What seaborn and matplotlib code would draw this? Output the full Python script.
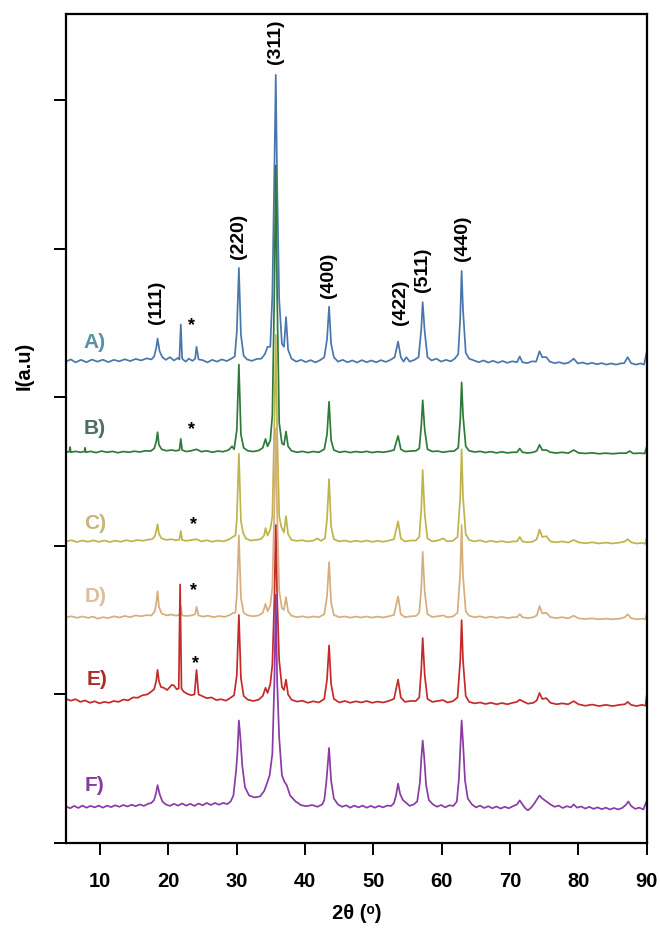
import matplotlib
matplotlib.use("Agg")
import pandas as pd
import matplotlib.pyplot as plt
import seaborn as sns

# Stacked XRD patterns: (2theta, intensity above each pattern's own baseline)
samples = ["A)", "B)", "C)", "D)", "E)", "F)"]
offsets = [3.24, 2.63, 2.03, 1.52, 0.95, 0.24]

pattern_a = [(5.0, 0.00), (5.7, 0.015), (6.4, -0.005), (7.2, 0.012), (8.0, -0.004), (8.8, 0.014), (9.6, 0.0),
             (10.4, 0.013), (11.2, -0.003), (12.0, 0.012), (12.8, 0.002), (13.6, 0.016), (14.4, 0.004), (15.2, 0.018),
             (16.0, 0.008), (16.8, 0.022), (17.5, 0.015), (17.9, 0.035), (18.2, 0.09), (18.4, 0.155), (18.7, 0.07),
             (19.1, 0.03), (19.6, 0.012), (20.2, 0.03), (20.8, 0.008), (21.4, 0.025), (21.6, 0.015), (21.8, 0.25),
             (22.0, 0.02), (22.5, 0.0), (23.0, 0.02), (23.5, 0.005), (23.9, 0.02), (24.1, 0.10), (24.4, 0.015),
             (25.0, 0.01), (25.7, -0.005), (26.4, 0.012), (27.1, 0.0), (27.8, 0.015), (28.5, 0.004), (29.2, 0.02),
             (29.7, 0.035), (30.0, 0.20), (30.3, 0.63), (30.6, 0.18), (31.0, 0.04), (31.5, 0.015), (32.2, 0.005),
             (32.9, 0.018), (33.6, 0.02), (34.1, 0.05), (34.5, 0.10), (34.9, 0.10), (35.2, 0.45), (35.5, 1.30),
             (35.7, 1.93), (35.9, 1.20), (36.2, 0.42), (36.6, 0.12), (36.9, 0.10), (37.2, 0.30), (37.5, 0.08),
             (38.0, 0.02), (38.7, 0.0), (39.4, 0.012), (40.1, -0.003), (40.8, 0.01), (41.5, -0.005), (42.2, 0.01),
             (42.8, 0.03), (43.2, 0.15), (43.5, 0.37), (43.8, 0.12), (44.2, 0.03), (44.8, 0.0), (45.5, 0.012),
             (46.2, -0.004), (46.9, 0.008), (47.6, -0.006), (48.3, 0.01), (49.0, -0.004), (49.7, 0.008),
             (50.4, -0.005), (51.1, 0.01), (51.8, -0.002), (52.5, 0.012), (53.1, 0.03), (53.6, 0.135), (54.0, 0.03),
             (54.4, 0.0), (54.8, 0.03), (55.3, 0.0), (56.0, 0.012), (56.6, 0.03), (57.0, 0.22), (57.2, 0.40),
             (57.5, 0.20), (57.9, 0.03), (58.5, 0.008), (59.2, 0.02), (59.9, 0.0), (60.6, 0.012), (61.3, 0.002),
             (61.9, 0.02), (62.4, 0.05), (62.7, 0.30), (62.9, 0.61), (63.1, 0.35), (63.5, 0.06), (64.0, 0.02),
             (64.7, 0.008), (65.4, -0.004), (66.1, 0.008), (66.8, -0.006), (67.5, 0.006), (68.2, -0.008),
             (68.9, 0.004), (69.6, -0.008), (70.3, 0.002), (71.0, -0.004), (71.4, 0.035), (71.8, -0.004),
             (72.5, -0.01), (73.2, 0.002), (73.8, 0.0), (74.3, 0.07), (74.7, 0.03), (75.3, 0.03), (75.8, 0.0),
             (76.5, -0.01), (77.2, -0.004), (77.9, -0.014), (78.6, -0.006), (79.3, 0.02), (79.9, -0.012),
             (80.6, -0.006), (81.3, -0.016), (82.0, -0.008), (82.7, -0.018), (83.4, -0.01), (84.1, -0.02),
             (84.8, -0.012), (85.5, -0.02), (86.2, -0.012), (86.7, -0.01), (87.2, 0.03), (87.7, -0.01),
             (88.4, -0.02), (89.1, -0.012), (89.6, -0.02), (90.0, 0.07)]

pattern_b = [(5.0, 0.0), (5.5, 0.005), (5.6, 0.035), (5.7, 0.0), (6.4, 0.006), (7.1, 0.0), (7.7, 0.005), (7.8, 0.03),
             (7.9, 0.0), (8.6, 0.006), (9.4, -0.002), (10.2, 0.008), (11.0, 0.0), (11.8, 0.006), (12.6, -0.003),
             (13.4, 0.005), (14.2, 0.0), (15.0, 0.007), (15.8, 0.002), (16.6, 0.01), (17.4, 0.008), (17.9, 0.025),
             (18.2, 0.07), (18.4, 0.135), (18.6, 0.05), (19.0, 0.02), (19.7, 0.01), (20.4, 0.015), (21.1, 0.01),
             (21.6, 0.015), (21.8, 0.09), (22.0, 0.015), (22.6, 0.005), (23.3, 0.01), (24.1, 0.02), (24.8, 0.004),
             (25.6, 0.01), (26.4, 0.0), (27.2, 0.008), (28.0, 0.004), (28.8, 0.015), (29.3, 0.04), (29.6, 0.02),
             (30.0, 0.15), (30.3, 0.59), (30.6, 0.12), (31.0, 0.03), (31.6, 0.01), (32.4, 0.005), (33.2, 0.012),
             (33.8, 0.03), (34.2, 0.09), (34.5, 0.04), (34.9, 0.08), (35.2, 0.25), (35.5, 1.10), (35.7, 1.93),
             (35.9, 1.05), (36.2, 0.20), (36.6, 0.06), (36.9, 0.05), (37.2, 0.14), (37.5, 0.04), (38.0, 0.01),
             (38.8, 0.0), (39.6, 0.006), (40.4, -0.002), (41.2, 0.005), (42.0, 0.0), (42.8, 0.02), (43.2, 0.12),
             (43.5, 0.34), (43.8, 0.08), (44.2, 0.015), (45.0, 0.0), (45.8, 0.006), (46.6, -0.002), (47.4, 0.005),
             (48.2, 0.0), (49.0, 0.006), (49.8, -0.002), (50.6, 0.004), (51.4, 0.0), (52.2, 0.006), (53.0, 0.015),
             (53.6, 0.11), (54.0, 0.02), (54.6, 0.005), (55.4, 0.008), (56.2, 0.01), (56.7, 0.025), (57.0, 0.18),
             (57.2, 0.35), (57.5, 0.15), (57.9, 0.02), (58.6, 0.005), (59.4, 0.008), (60.2, 0.0), (61.0, 0.006),
             (61.8, 0.008), (62.4, 0.03), (62.7, 0.22), (62.9, 0.47), (63.1, 0.25), (63.5, 0.04), (64.0, 0.01),
             (64.8, 0.002), (65.6, 0.006), (66.4, -0.002), (67.2, 0.004), (68.0, -0.004), (68.8, 0.003),
             (69.6, -0.004), (70.4, 0.0), (71.0, 0.0), (71.4, 0.025), (71.8, 0.0), (72.6, -0.005), (73.4, 0.0),
             (73.9, 0.01), (74.3, 0.05), (74.7, 0.015), (75.3, 0.015), (75.9, 0.0), (76.8, -0.005), (77.6, 0.0),
             (78.5, -0.006), (79.3, 0.015), (80.0, -0.004), (81.0, -0.008), (82.0, -0.004), (83.0, -0.01),
             (84.0, -0.006), (85.0, -0.01), (86.0, -0.006), (87.0, -0.006), (87.5, 0.008), (88.0, -0.008),
             (89.0, -0.006), (89.7, -0.008), (90.0, 0.04)]

pattern_c = [(5.0, 0.0), (5.8, 0.008), (6.6, -0.004), (7.4, 0.006), (8.2, -0.002), (9.0, 0.007), (9.8, -0.003),
             (10.6, 0.006), (11.4, -0.004), (12.2, 0.005), (13.0, -0.002), (13.8, 0.008), (14.6, 0.0), (15.4, 0.01),
             (16.2, 0.004), (17.0, 0.012), (17.6, 0.015), (18.0, 0.035), (18.2, 0.07), (18.4, 0.115), (18.6, 0.05),
             (19.0, 0.02), (19.7, 0.01), (20.4, 0.015), (21.1, 0.008), (21.6, 0.012), (21.8, 0.07), (22.0, 0.01),
             (22.6, 0.004), (23.4, 0.01), (24.1, 0.015), (24.8, 0.0), (25.6, 0.008), (26.4, -0.002), (27.2, 0.006),
             (28.0, 0.0), (28.8, 0.012), (29.4, 0.03), (29.8, 0.04), (30.0, 0.15), (30.3, 0.59), (30.6, 0.14),
             (30.9, 0.06), (31.3, 0.02), (32.0, 0.006), (32.8, 0.01), (33.5, 0.015), (34.0, 0.04), (34.2, 0.09),
             (34.5, 0.04), (34.9, 0.08), (35.2, 0.17), (35.5, 0.80), (35.7, 1.39), (35.9, 0.75), (36.2, 0.17),
             (36.5, 0.10), (36.9, 0.06), (37.2, 0.17), (37.5, 0.05), (38.0, 0.01), (38.8, 0.004), (39.6, 0.008),
             (40.4, 0.0), (41.2, 0.006), (41.8, 0.02), (42.3, 0.004), (42.9, 0.02), (43.2, 0.15), (43.5, 0.42),
             (43.8, 0.10), (44.2, 0.015), (45.0, 0.0), (45.8, 0.006), (46.6, -0.003), (47.4, 0.005), (48.2, -0.002),
             (49.0, 0.006), (49.8, -0.003), (50.6, 0.004), (51.4, -0.002), (52.2, 0.005), (53.0, 0.015),
             (53.6, 0.135), (54.0, 0.02), (54.6, 0.0), (55.4, 0.006), (56.2, 0.006), (56.7, 0.03), (57.0, 0.22),
             (57.2, 0.48), (57.5, 0.18), (57.9, 0.02), (58.6, 0.0), (59.4, 0.006), (60.2, 0.02), (60.8, 0.0),
             (61.6, 0.004), (62.3, 0.03), (62.7, 0.30), (62.9, 0.62), (63.1, 0.30), (63.5, 0.05), (64.0, 0.01),
             (64.8, 0.0), (65.6, 0.008), (66.4, -0.004), (67.2, 0.004), (68.0, -0.004), (68.8, 0.002),
             (69.6, -0.006), (70.4, 0.0), (71.0, 0.0), (71.4, 0.03), (71.8, 0.0), (72.6, -0.006), (73.4, 0.0),
             (73.9, 0.015), (74.3, 0.08), (74.7, 0.03), (75.3, 0.035), (75.9, 0.0), (76.8, -0.006), (77.6, 0.0),
             (78.5, -0.008), (79.3, 0.01), (80.0, -0.006), (81.0, -0.012), (82.0, -0.006), (83.0, -0.014),
             (84.0, -0.008), (85.0, -0.014), (86.0, -0.008), (86.8, 0.0), (87.2, 0.015), (87.7, -0.006),
             (88.5, -0.014), (89.3, -0.01), (89.8, -0.016), (90.0, 0.03)]

pattern_d = [(5.0, 0.0), (5.8, 0.006), (6.6, -0.004), (7.4, 0.005), (8.2, -0.004), (9.0, 0.004), (9.6, -0.01),
             (10.4, 0.0), (11.2, -0.006), (12.0, 0.006), (12.8, -0.002), (13.6, 0.008), (14.4, 0.0), (15.2, 0.012),
             (16.0, 0.006), (16.8, 0.014), (17.5, 0.012), (18.0, 0.04), (18.2, 0.09), (18.4, 0.175), (18.6, 0.07),
             (19.0, 0.025), (19.7, 0.012), (20.4, 0.018), (21.1, 0.01), (21.6, 0.015), (21.8, 0.075), (22.0, 0.012),
             (22.6, 0.008), (23.4, 0.012), (23.9, 0.02), (24.1, 0.07), (24.4, 0.012), (25.0, 0.004), (25.8, 0.01),
             (26.6, 0.0), (27.4, 0.008), (28.2, 0.002), (29.0, 0.015), (29.5, 0.03), (29.8, 0.03), (30.0, 0.15),
             (30.3, 0.55), (30.6, 0.13), (31.0, 0.03), (31.6, 0.012), (32.4, 0.006), (33.2, 0.012), (33.8, 0.03),
             (34.2, 0.09), (34.5, 0.04), (34.9, 0.08), (35.2, 0.20), (35.5, 0.75), (35.7, 1.27), (35.9, 0.70),
             (36.2, 0.18), (36.6, 0.06), (36.9, 0.05), (37.2, 0.135), (37.5, 0.04), (38.0, 0.01), (38.8, 0.0),
             (39.6, 0.006), (40.4, -0.002), (41.2, 0.005), (42.0, 0.0), (42.8, 0.02), (43.2, 0.14), (43.5, 0.37),
             (43.8, 0.10), (44.2, 0.015), (45.0, 0.0), (45.8, 0.005), (46.6, -0.003), (47.4, 0.004), (48.2, -0.002),
             (49.0, 0.005), (49.8, -0.003), (50.6, 0.004), (51.4, -0.002), (52.2, 0.006), (53.0, 0.015),
             (53.6, 0.14), (54.0, 0.02), (54.6, 0.0), (55.4, 0.006), (56.2, 0.008), (56.7, 0.03), (57.0, 0.20),
             (57.2, 0.44), (57.5, 0.17), (57.9, 0.02), (58.6, 0.002), (59.4, 0.006), (60.2, 0.012), (60.8, 0.0),
             (61.6, 0.004), (62.3, 0.03), (62.7, 0.30), (62.9, 0.62), (63.1, 0.28), (63.5, 0.04), (64.0, 0.01),
             (64.8, 0.0), (65.6, 0.006), (66.4, -0.004), (67.2, 0.004), (68.0, -0.004), (68.8, 0.002),
             (69.6, -0.006), (70.4, 0.0), (71.0, 0.0), (71.4, 0.02), (71.8, 0.0), (72.6, -0.006), (73.4, 0.0),
             (73.9, 0.012), (74.3, 0.075), (74.7, 0.025), (75.3, 0.03), (75.9, 0.0), (76.8, -0.006), (77.6, 0.0),
             (78.5, -0.008), (79.3, 0.01), (80.0, -0.008), (81.0, -0.012), (82.0, -0.008), (83.0, -0.014),
             (84.0, -0.01), (85.0, -0.014), (86.0, -0.01), (86.8, 0.0), (87.2, 0.02), (87.7, -0.006),
             (88.5, -0.014), (89.3, -0.01), (89.8, -0.014), (90.0, 0.03)]

pattern_e = [(5.0, 0.02), (5.7, 0.008), (6.4, 0.018), (7.1, 0.0), (7.8, 0.01), (8.5, -0.006), (9.2, 0.004),
             (9.9, -0.01), (10.6, 0.0), (11.3, -0.006), (12.0, 0.006), (12.7, 0.0), (13.4, 0.016), (14.1, 0.01),
             (14.8, 0.03), (15.5, 0.028), (16.2, 0.045), (16.9, 0.05), (17.5, 0.07), (17.9, 0.085), (18.2, 0.14),
             (18.4, 0.215), (18.6, 0.14), (18.9, 0.10), (19.3, 0.095), (19.8, 0.08), (20.2, 0.10), (20.5, 0.115),
             (20.8, 0.11), (21.2, 0.085), (21.5, 0.09), (21.7, 0.79), (21.9, 0.09), (22.2, 0.07), (22.7, 0.055),
             (23.3, 0.045), (23.8, 0.05), (24.1, 0.215), (24.4, 0.05), (24.9, 0.04), (25.6, 0.025), (26.3, 0.03),
             (27.0, 0.012), (27.7, 0.018), (28.4, 0.008), (29.0, 0.025), (29.6, 0.045), (30.0, 0.18),
             (30.3, 0.585), (30.6, 0.16), (31.0, 0.04), (31.6, 0.015), (32.4, 0.006), (33.2, 0.015), (33.8, 0.04),
             (34.2, 0.095), (34.5, 0.06), (34.9, 0.12), (35.2, 0.25), (35.5, 0.70), (35.7, 1.19), (35.9, 0.70),
             (36.2, 0.28), (36.6, 0.10), (36.9, 0.08), (37.2, 0.15), (37.5, 0.05), (38.0, 0.015), (38.8, 0.002),
             (39.6, 0.008), (40.4, -0.006), (41.2, 0.004), (42.0, -0.004), (42.8, 0.02), (43.2, 0.15),
             (43.5, 0.38), (43.8, 0.12), (44.2, 0.02), (45.0, -0.004), (45.8, 0.006), (46.6, -0.006),
             (47.4, 0.004), (48.2, -0.004), (49.0, 0.006), (49.8, -0.006), (50.6, 0.002), (51.4, -0.004),
             (52.2, 0.006), (53.0, 0.02), (53.6, 0.15), (54.0, 0.03), (54.6, 0.0), (55.4, 0.006), (56.2, 0.006),
             (56.7, 0.03), (57.0, 0.22), (57.2, 0.43), (57.5, 0.18), (57.9, 0.02), (58.6, 0.0), (59.4, 0.006),
             (60.2, 0.012), (60.8, -0.004), (61.6, 0.004), (62.3, 0.03), (62.7, 0.28), (62.9, 0.55), (63.1, 0.28),
             (63.5, 0.04), (64.0, 0.0), (64.8, -0.01), (65.6, -0.004), (66.4, -0.014), (67.2, -0.006),
             (68.0, -0.016), (68.8, -0.008), (69.6, -0.016), (70.4, -0.006), (71.0, 0.0), (71.4, 0.015),
             (71.8, 0.005), (72.6, -0.012), (73.4, -0.006), (73.9, 0.01), (74.3, 0.06), (74.7, 0.02), (75.3, 0.025),
             (75.9, -0.006), (76.8, -0.016), (77.6, -0.01), (78.5, -0.016), (79.3, 0.005), (80.0, -0.016),
             (81.0, -0.026), (82.0, -0.018), (83.0, -0.028), (84.0, -0.02), (85.0, -0.028), (86.0, -0.02),
             (86.8, -0.016), (87.2, 0.0), (87.7, -0.02), (88.5, -0.028), (89.3, -0.02), (89.8, -0.026),
             (90.0, 0.047)]

pattern_f = [(5.0, 0.007), (5.6, -0.006), (6.2, 0.01), (6.8, -0.004), (7.4, 0.012), (8.0, -0.002), (8.6, 0.01),
             (9.2, 0.0), (9.8, 0.012), (10.4, -0.002), (11.0, 0.012), (11.6, 0.002), (12.2, 0.014), (12.8, 0.004),
             (13.4, 0.016), (14.0, 0.006), (14.6, 0.018), (15.2, 0.008), (15.8, 0.02), (16.4, 0.01), (17.0, 0.024),
             (17.5, 0.03), (17.9, 0.05), (18.2, 0.10), (18.4, 0.15), (18.7, 0.09), (19.1, 0.04), (19.6, 0.02),
             (20.2, 0.01), (20.8, 0.024), (21.4, 0.012), (22.0, 0.026), (22.6, 0.012), (23.2, 0.024), (23.8, 0.01),
             (24.4, 0.026), (25.0, 0.014), (25.6, 0.03), (26.2, 0.016), (26.8, 0.03), (27.4, 0.018), (28.0, 0.03),
             (28.6, 0.022), (29.1, 0.04), (29.5, 0.08), (29.9, 0.25), (30.1, 0.38), (30.3, 0.585), (30.5, 0.48),
             (30.8, 0.28), (31.2, 0.135), (31.8, 0.08), (32.6, 0.067), (33.4, 0.074), (34.0, 0.11), (34.4, 0.16),
             (34.8, 0.215), (35.2, 0.36), (35.5, 0.85), (35.7, 1.43), (35.9, 0.85), (36.2, 0.47), (36.6, 0.215),
             (37.0, 0.17), (37.3, 0.15), (37.8, 0.08), (38.6, 0.04), (39.4, 0.015), (40.2, 0.008), (41.0, 0.016),
             (41.8, 0.004), (42.5, 0.02), (42.8, 0.05), (43.1, 0.17), (43.5, 0.40), (43.8, 0.18), (44.2, 0.06),
             (44.8, 0.02), (45.4, 0.004), (46.0, 0.014), (46.6, -0.002), (47.2, 0.012), (47.8, 0.0), (48.4, 0.012),
             (49.0, -0.002), (49.6, 0.01), (50.2, -0.002), (50.8, 0.01), (51.4, 0.0), (52.0, 0.012), (52.6, 0.01),
             (53.0, 0.03), (53.3, 0.08), (53.6, 0.16), (53.9, 0.09), (54.3, 0.05), (54.8, 0.03), (55.3, 0.01),
             (55.9, 0.02), (56.4, 0.04), (56.8, 0.17), (57.0, 0.33), (57.2, 0.45), (57.4, 0.35), (57.7, 0.15),
             (58.1, 0.05), (58.7, 0.02), (59.3, 0.004), (59.9, 0.016), (60.5, 0.0), (61.1, 0.014), (61.7, 0.01),
             (62.2, 0.04), (62.5, 0.19), (62.8, 0.48), (62.9, 0.585), (63.1, 0.44), (63.4, 0.18), (63.8, 0.06),
             (64.4, 0.02), (65.0, 0.0), (65.6, 0.012), (66.2, -0.004), (66.8, 0.008), (67.4, -0.006), (68.0, 0.006),
             (68.6, -0.008), (69.2, 0.004), (69.8, -0.006), (70.4, 0.008), (71.0, 0.02), (71.4, 0.047),
             (71.8, 0.02), (72.2, -0.005), (72.6, -0.02), (73.1, 0.0), (73.6, 0.03), (74.0, 0.06), (74.3, 0.08),
             (74.7, 0.06), (75.3, 0.04), (75.9, 0.02), (76.5, 0.004), (77.1, 0.012), (77.7, -0.004), (78.3, 0.008),
             (78.9, 0.0), (79.3, 0.02), (79.8, -0.002), (80.4, 0.006), (81.0, -0.008), (81.6, 0.004),
             (82.2, -0.01), (82.8, 0.0), (83.4, -0.012), (84.0, -0.002), (84.6, -0.014), (85.2, -0.004),
             (85.8, -0.014), (86.4, -0.004), (87.0, 0.02), (87.3, 0.04), (87.7, 0.01), (88.3, -0.01),
             (88.9, -0.002), (89.5, -0.014), (90.0, 0.047)]

patterns = [pattern_a, pattern_b, pattern_c, pattern_d, pattern_e, pattern_f]

line_colors = ["#4a76ad", "#2f7a3a", "#bfb44c", "#d6ae7e", "#c42a2a", "#8b3aa6"]
label_colors = ["#5b90a8", "#4d6f66", "#c9b47a", "#dcbf9c", "#ad2c2c", "#843c9e"]

# sample name positions, peak indices and impurity marks
label_x = [7.6, 7.6, 7.7, 7.7, 8.0, 7.7]
label_y = [3.37, 2.79, 2.15, 1.66, 1.10, 0.39]
hkl_labels = ["(111)", "(220)", "(311)", "(400)", "(422)", "(511)", "(440)"]
hkl_x = [18.3, 30.2, 35.7, 43.4, 54.0, 57.2, 63.1]
hkl_y = [3.64, 4.08, 5.39, 3.82, 3.64, 3.86, 4.07]
star_x = [23.4, 23.3, 23.6, 23.7, 23.9]
star_y = [3.48, 2.78, 2.14, 1.70, 1.21]

# long-form table, each pattern shifted by its offset
rows = []
for name, off, pts in zip(samples, offsets, patterns):
    for tt, inten in pts:
        rows.append({"two_theta": tt, "intensity": inten + off, "sample": name})
df = pd.DataFrame(rows)

sns.set_style("ticks")
plt.rcParams["font.family"] = ["Liberation Sans", "DejaVu Sans"]
plt.rcParams["text.color"] = "black"
plt.rcParams["axes.labelcolor"] = "black"
plt.rcParams["xtick.color"] = "black"
plt.rcParams["ytick.color"] = "black"

fig = plt.figure(figsize=(6.6, 9.3), dpi=100)
ax = fig.add_axes([0.1, 0.0935, 0.88, 0.8915])

sns.lineplot(data=df, x="two_theta", y="intensity", hue="sample", hue_order=samples,
             palette=dict(zip(samples, line_colors)), estimator=None, sort=False,
             legend=False, linewidth=1.25, ax=ax)

ax.set_xlim(5, 90)
ax.set_ylim(0, 5.58)
ax.set_xticks(range(10, 91, 10))
ax.set_yticks(range(0, 6))
ax.set_yticklabels([])
ax.tick_params(axis="both", direction="out", length=8.5, width=1.4, color="black")
ax.tick_params(axis="x", pad=12, labelsize=14.5, labelcolor="black")
for lab in ax.get_xticklabels():
    lab.set_fontweight("bold")
for sp in ax.spines.values():
    sp.set_visible(True)
    sp.set_linewidth(1.6)
    sp.set_color("black")

ax.set_xlabel("2θ (ᵒ)", fontsize=14.5, fontweight="bold")
ax.xaxis.set_label_coords(0.5, -0.074)
ax.set_ylabel("I(a.u)", fontsize=14.5, fontweight="bold")
ax.yaxis.set_label_coords(-0.055, 0.575)

for name, x, y, c in zip(samples, label_x, label_y, label_colors):
    ax.text(x, y, name, color=c, fontsize=15, fontweight="bold", ha="left", va="center")

for lab, x, y in zip(hkl_labels, hkl_x, hkl_y):
    ax.text(x, y, lab, rotation=90, fontsize=14, fontweight="bold", ha="center", va="center")

for x, y in zip(star_x, star_y):
    ax.text(x, y, "*", fontsize=13, fontweight="bold", ha="center", va="center")

plt.savefig("out.png", dpi=100)
